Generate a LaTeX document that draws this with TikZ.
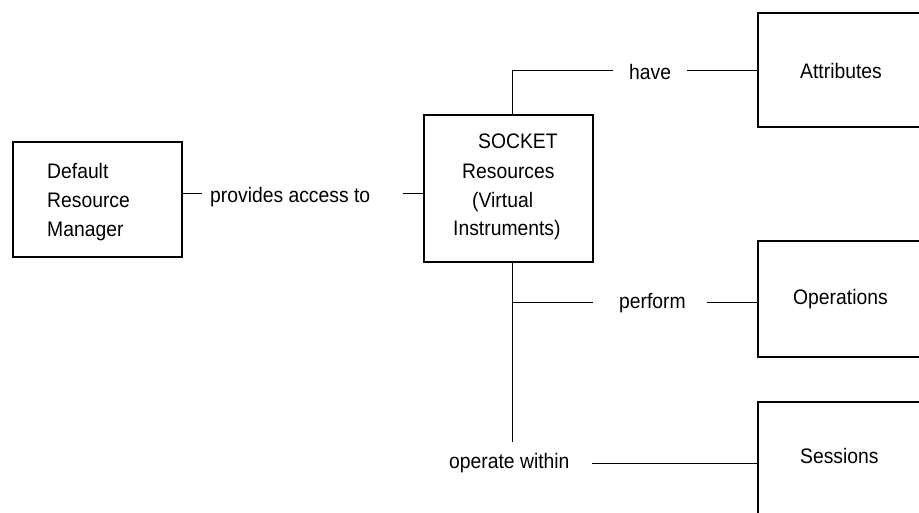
\documentclass[tikz,border=0pt]{standalone}
\usepackage{fontspec}
\setmainfont{Liberation Sans}[FakeStretch=0.92]
\begin{document}
\begin{tikzpicture}[x=1pt,y=-1pt,
  box/.style={draw,line width=1.8pt,inner sep=0pt,minimum width=#1},
  lbl/.style={anchor=base west,inner sep=0pt,font=\fontsize{21}{24}\selectfont},
  conn/.style={line width=0.9pt}]
\useasboundingbox (0,0) rectangle (919,512);
\clip (0,0) rectangle (919,512);
% boxes
\node[box=169pt,minimum height=115pt] (dflt) at (97.5,199.5) {};
\node[box=169pt,minimum height=147pt] (sock) at (508.5,188.5) {};
\node[box=190pt,minimum height=114pt] (attr) at (853,70) {};
\node[box=190pt,minimum height=116pt] (oper) at (853,299) {};
\node[box=190pt,minimum height=130pt] (sess) at (853,467) {};
% box texts
\node[lbl] (d1) at (47,178) {Default};
\node[lbl] (d2) at (47,207) {Resource};
\node[lbl] (d3) at (47,236) {Manager};
\node[lbl] (s1) at (478,148) {SOCKET};
\node[lbl] (s2) at (462,178) {Resources};
\node[lbl] (s3) at (472,207) {(Virtual};
\node[lbl] (s4) at (453,235) {Instruments)};
\node[lbl] (ta) at (800,78) {Attributes};
\node[lbl] (to) at (793,304) {Operations};
\node[lbl] (ts) at (800,463) {Sessions};
% connector labels
\node[lbl] (lpa) at (210,202) {provides access to};
\node[lbl] (lhv) at (629,79) {have};
\node[lbl] (lpf) at (619,308) {perform};
\node[lbl] (low) at (449,468) {operate within};
% coordinates
\coordinate (pa1) at (202,193);
\coordinate (pa2) at (403,193);
\coordinate (hc) at (512,70);
\coordinate (h1) at (613,70);
\coordinate (h2) at (687,70);
\coordinate (vc) at (512,442);
\coordinate (pf0) at (512,302);
\coordinate (pf1) at (593,302);
\coordinate (pf2) at (707,302);
\coordinate (ow1) at (592,463);
% connectors
\draw[conn] (dflt.east |- pa1) -- (pa1);
\draw[conn] (pa2) -- (sock.west |- pa2);
\draw[conn] (hc |- sock.north) -- (hc) -- (h1);
\draw[conn] (h2) -- (attr.west |- h2);
\draw[conn] (vc |- sock.south) -- (vc);
\draw[conn] (pf0) -- (pf1);
\draw[conn] (pf2) -- (oper.west |- pf2);
\draw[conn] (ow1) -- (sess.west |- ow1);
\end{tikzpicture}
\end{document}
